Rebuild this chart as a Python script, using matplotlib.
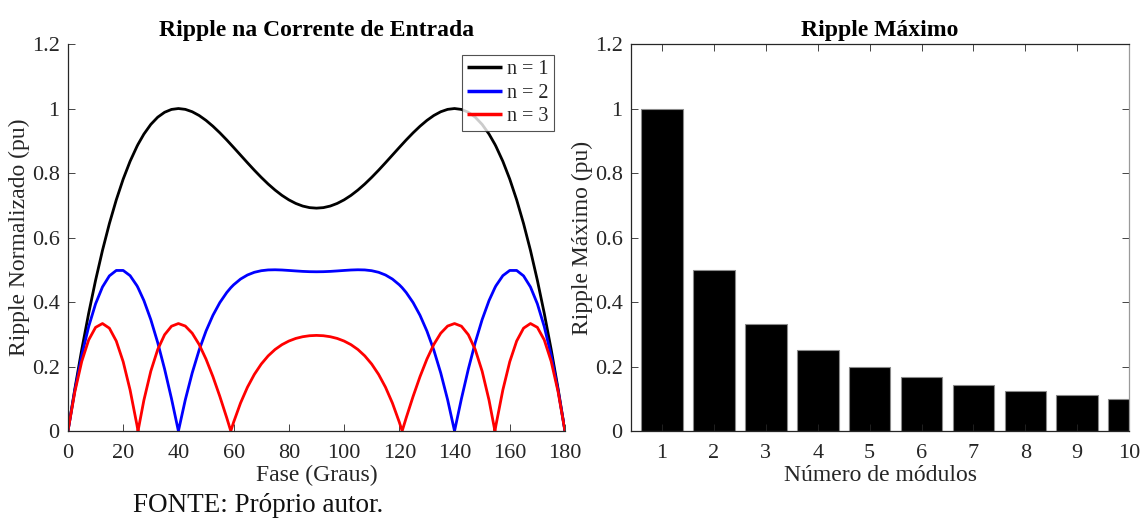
import matplotlib
matplotlib.use("Agg")
import matplotlib.pyplot as plt

plt.rcParams["font.family"] = ["Liberation Serif", "DejaVu Serif"]
plt.rcParams["mathtext.fontset"] = "stix"

# Phase angle (degrees)
fase = [0, 2.5, 5, 7.5, 10, 12.5, 15, 17.5, 20, 22.5, 25, 25.37, 27.5, 30, 32.5,
        35, 37.5, 40, 42.5, 45, 47.5, 50, 52.5, 55, 57.5, 58.97, 60, 62.5, 65,
        67.5, 70, 72.5, 75, 77.5, 80, 82.5, 85, 87.5, 90,
        92.5, 95, 97.5, 100, 102.5, 105, 107.5, 110, 112.5, 115, 117.5, 120,
        121.03, 122.5, 125, 127.5, 130, 132.5, 135, 137.5, 140, 142.5, 145,
        147.5, 150, 152.5, 154.63, 155, 157.5, 160, 162.5, 165, 167.5, 170,
        172.5, 175, 177.5, 180]

# Normalised input-current ripple for n = 1, 2, 3 modules
ripple_n1 = [0, 0.1311, 0.2528, 0.3649, 0.4673, 0.5601, 0.6432, 0.7168, 0.7811,
             0.8363, 0.8827, 0.8889, 0.9207, 0.9507, 0.9731, 0.9884, 0.9972,
             1.0000, 0.9974, 0.9900, 0.9784, 0.9632, 0.9451, 0.9247, 0.9026,
             0.8889, 0.8793, 0.8556, 0.8319, 0.8087, 0.7866, 0.7659, 0.7472,
             0.7307, 0.7168, 0.7057, 0.6976, 0.6927, 0.6911,
             0.6927, 0.6976, 0.7057, 0.7168, 0.7307, 0.7472, 0.7659, 0.7866,
             0.8087, 0.8319, 0.8556, 0.8793, 0.8889, 0.9026, 0.9247, 0.9451,
             0.9632, 0.9784, 0.9900, 0.9974, 1.0000, 0.9972, 0.9884, 0.9731,
             0.9507, 0.9207, 0.8889, 0.8827, 0.8363, 0.7811, 0.7168, 0.6432,
             0.5601, 0.4673, 0.3649, 0.2528, 0.1311, 0]

ripple_n2 = [0, 0.1265, 0.2344, 0.3237, 0.3944, 0.4467, 0.4811, 0.4979, 0.4979,
             0.4818, 0.4504, 0.4444, 0.4046, 0.3455, 0.2743, 0.1921, 0.1002, 0,
             0.0969, 0.1802, 0.2509, 0.3100, 0.3588, 0.3982, 0.4294, 0.4444,
             0.4534, 0.4712, 0.4838, 0.4922, 0.4971, 0.4995, 0.5000, 0.4993,
             0.4979, 0.4964, 0.4950, 0.4941, 0.4938,
             0.4941, 0.4950, 0.4964, 0.4979, 0.4993, 0.5000, 0.4995, 0.4971,
             0.4922, 0.4838, 0.4712, 0.4534, 0.4444, 0.4294, 0.3982, 0.3588,
             0.3100, 0.2509, 0.1802, 0.0969, 0, 0.1002, 0.1921, 0.2743, 0.3455,
             0.4046, 0.4444, 0.4504, 0.4818, 0.4979, 0.4979, 0.4811, 0.4467,
             0.3944, 0.3237, 0.2344, 0.1265, 0]

ripple_n3 = [0, 0.1219, 0.2160, 0.2824, 0.3214, 0.3333, 0.3189, 0.2790, 0.2148,
             0.1273, 0.0180, 0, 0.0955, 0.1854, 0.2526, 0.2986, 0.3250, 0.3333,
             0.3255, 0.3033, 0.2685, 0.2230, 0.1687, 0.1074, 0.0411, 0, 0.0275,
             0.0868, 0.1358, 0.1756, 0.2076, 0.2330, 0.2528, 0.2678, 0.2790,
             0.2871, 0.2924, 0.2955, 0.2965,
             0.2955, 0.2924, 0.2871, 0.2790, 0.2678, 0.2528, 0.2330, 0.2076,
             0.1756, 0.1358, 0.0868, 0.0275, 0, 0.0411, 0.1074, 0.1687, 0.2230,
             0.2685, 0.3033, 0.3255, 0.3333, 0.3250, 0.2986, 0.2526, 0.1854,
             0.0955, 0, 0.0180, 0.1273, 0.2148, 0.2790, 0.3189, 0.3333, 0.3214,
             0.2824, 0.2160, 0.1219, 0]

series_labels = ["n = 1", "n = 2", "n = 3"]
series_colors = ["#000000", "#0000ff", "#ff0000"]

# Maximum ripple versus number of modules
modulos = [1, 2, 3, 4, 5, 6, 7, 8, 9, 10]
ripple_max = [1.0, 0.5, 0.3333, 0.25, 0.2, 0.1667, 0.1429, 0.125, 0.1111, 0.1]

y_ticks = [0, 0.2, 0.4, 0.6, 0.8, 1, 1.2]
y_ticklabels = ["0", "0.2", "0.4", "0.6", "0.8", "1", "1.2"]
x_ticks_fase = [0, 20, 40, 60, 80, 100, 120, 140, 160, 180]

TICK_COLOR = "#262626"
TICK_FS = 16
LABEL_FS = 17
TITLE_FS = 17


def style_ticks(ax, **extra):
    ax.tick_params(direction="in", length=5, width=0.6, colors=TICK_COLOR,
                   labelsize=TICK_FS, **extra)
    ax.tick_params(axis="x", pad=9)
    ax.tick_params(axis="y", pad=6)


fig = plt.figure(figsize=(11.46, 5.21), dpi=100)

# ---------- left panel: ripple vs phase ----------
ax1 = fig.add_axes([0.0593, 0.1727, 0.4337, 0.7428])
for vals, lab, col in zip([ripple_n1, ripple_n2, ripple_n3], series_labels, series_colors):
    ax1.plot(fase, vals, color=col, lw=2.0, label=lab, solid_joinstyle="round")
ax1.set_xlim(0, 180)
ax1.set_ylim(0, 1.2)
ax1.set_xticks(x_ticks_fase)
ax1.set_yticks(y_ticks)
ax1.set_yticklabels(y_ticklabels)
for side in ("top", "right"):
    ax1.spines[side].set_visible(False)
for side in ("left", "bottom"):
    ax1.spines[side].set_color(TICK_COLOR)
    ax1.spines[side].set_linewidth(0.9)
style_ticks(ax1)
ax1.set_xlabel("Fase (Graus)", fontsize=LABEL_FS, color=TICK_COLOR, labelpad=2)
ax1.set_ylabel("Ripple Normalizado (pu)", fontsize=LABEL_FS, color=TICK_COLOR, labelpad=1)
ax1.set_title("Ripple na Corrente de Entrada", fontsize=TITLE_FS, fontweight="bold", pad=6)
leg = ax1.legend(loc="upper right", fontsize=14.5, frameon=True, fancybox=False,
                 borderpad=0.25, labelspacing=0.22, handlelength=1.75,
                 handletextpad=0.25, borderaxespad=0.55)
leg.get_frame().set_edgecolor(TICK_COLOR)
leg.get_frame().set_linewidth(0.8)
for line in leg.get_lines():
    line.set_linewidth(2.5)
    line.set_solid_capstyle("butt")
for txt in leg.get_texts():
    txt.set_color(TICK_COLOR)

fig.text(0.225, 0.017, "FONTE: Próprio autor.", fontsize=19.5, ha="center", va="baseline",
         color="#111111")

# ---------- right panel: maximum ripple vs number of modules ----------
ax2 = fig.add_axes([0.5506, 0.1727, 0.4346, 0.7428])
ax2.bar(modulos, ripple_max, width=0.8, color="black", edgecolor="#8a8a8a", linewidth=0.8)
ax2.set_xlim(0.4, 10)
ax2.set_ylim(0, 1.2)
ax2.set_xticks(modulos)
ax2.set_yticks(y_ticks)
ax2.set_yticklabels(y_ticklabels)
for side in ("top", "right", "left", "bottom"):
    ax2.spines[side].set_color(TICK_COLOR)
    ax2.spines[side].set_linewidth(0.9)
ax2.spines["right"].set_color("#9a9a9a")
style_ticks(ax2, top=True, right=True)
ax2.set_xlabel("Número de módulos", fontsize=LABEL_FS, color=TICK_COLOR, labelpad=2)
ax2.set_ylabel("Ripple Máximo (pu)", fontsize=LABEL_FS, color=TICK_COLOR, labelpad=1)
ax2.set_title("Ripple Máximo", fontsize=TITLE_FS, fontweight="bold", pad=6)

fig.savefig("out.png", dpi=100)
